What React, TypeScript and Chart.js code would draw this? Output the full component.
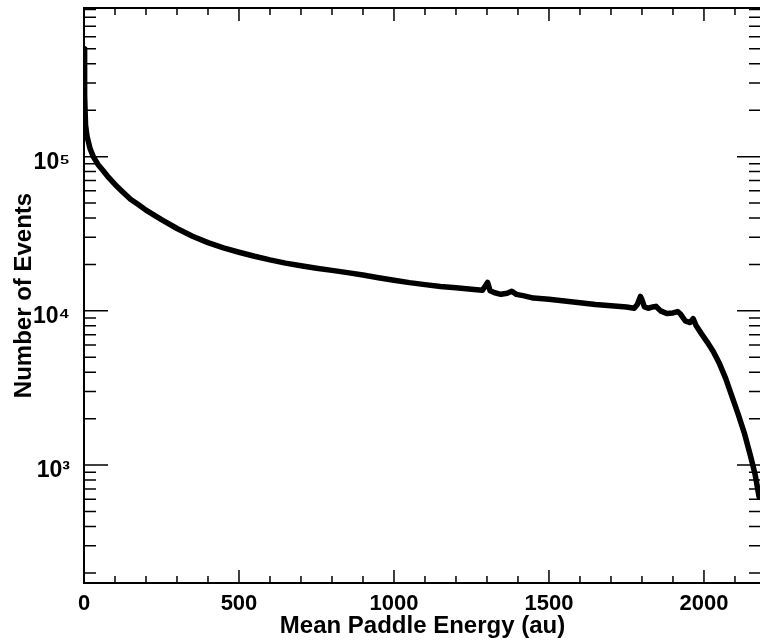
import React, { useEffect, useRef } from "react";
import { Chart, registerables } from "chart.js";

Chart.register(...registerables);

const energy: number[] = [
  0, 2, 5, 10, 20, 30, 45, 60, 80, 100, 125, 150, 175, 200, 250, 300, 350, 400, 450, 500,
  550, 600, 650, 700, 750, 800, 850, 900, 950, 1000, 1050, 1100, 1150, 1200, 1250, 1285,
  1295, 1302, 1310, 1325, 1345, 1365, 1380, 1395, 1420, 1450, 1500, 1550, 1600, 1650, 1700,
  1750, 1775, 1785, 1795, 1800, 1808, 1820, 1835, 1845, 1860, 1880, 1900, 1915, 1925, 1940,
  1955, 1965, 1975, 1990, 2010, 2030, 2050, 2070, 2090, 2110, 2130, 2150, 2165, 2178,
];

const events: number[] = [
  500000, 250000, 160000, 135000, 112000, 100000, 89000, 82000, 73000, 66000, 59000, 53000,
  49000, 45000, 39000, 34200, 30500, 27700, 25600, 24000, 22600, 21400, 20400, 19600, 18900,
  18300, 17700, 17100, 16400, 15800, 15250, 14800, 14400, 14100, 13800, 13600, 14500, 15300,
  13500, 13100, 12800, 13000, 13400, 12800, 12500, 12100, 11900, 11600, 11300, 11000, 10800,
  10600, 10400, 11000, 12400, 11800, 10600, 10400, 10600, 10700, 10000, 9600, 9700, 9900, 9500,
  8600, 8400, 8900, 8000, 7200, 6300, 5450, 4550, 3650, 2800, 2150, 1620, 1150, 870, 620,
];

const xTickValues: number[] = [
  0, 100, 200, 300, 400, 500, 600, 700, 800, 900, 1000, 1100, 1200, 1300, 1400, 1500, 1600,
  1700, 1800, 1900, 2000, 2100,
];
const xMajorStep = 500;

const yTickValues: number[] = [
  200, 300, 400, 500, 600, 700, 800, 900,
  1000, 2000, 3000, 4000, 5000, 6000, 7000, 8000, 9000,
  10000, 20000, 30000, 40000, 50000, 60000, 70000, 80000, 90000,
  100000, 200000, 300000, 400000, 500000, 600000, 700000, 800000, 900000,
];

const supDigits: Record<string, string> = {
  "0": "⁰", "1": "¹", "2": "²", "3": "³", "4": "⁴", "5": "⁵", "6": "⁶", "7": "⁷", "8": "⁸", "9": "⁹",
};

const FONT = "'Liberation Sans', Arial, Helvetica, sans-serif";

function isDecade(v: number) {
  const l = Math.log10(v);
  return Math.abs(l - Math.round(l)) < 1e-9;
}

function zeroPad(s: any) {
  s.paddingTop = 0;
  s.paddingBottom = 0;
  s.paddingLeft = 0;
  s.paddingRight = 0;
}

const frameTicks = {
  id: "frameTicks",
  afterDraw(chart: any) {
    const { ctx, chartArea: a } = chart;
    const xs = chart.scales.x;
    const ys = chart.scales.y;
    ctx.save();
    ctx.strokeStyle = "#000";
    ctx.lineWidth = 2;
    ctx.lineCap = "butt";
    ctx.beginPath();
    ctx.moveTo(a.left, a.top);
    ctx.lineTo(a.left, a.bottom);
    ctx.lineTo(a.right, a.bottom);
    ctx.lineTo(a.right, a.top);
    ctx.closePath();
    ctx.stroke();
    ctx.lineWidth = 1.5;
    ctx.beginPath();
    for (const t of xs.ticks) {
      const px = xs.getPixelForValue(t.value);
      const len = t.value % xMajorStep === 0 ? 13 : 7;
      ctx.moveTo(px, a.bottom);
      ctx.lineTo(px, a.bottom - len);
      ctx.moveTo(px, a.top);
      ctx.lineTo(px, a.top + len);
    }
    for (const t of ys.ticks) {
      const py = ys.getPixelForValue(t.value);
      const len = isDecade(t.value) ? 24 : 12;
      ctx.moveTo(a.left, py);
      ctx.lineTo(a.left + len, py);
      ctx.moveTo(a.right, py);
      ctx.lineTo(a.right - len, py);
    }
    ctx.stroke();
    ctx.restore();
  },
};

export default function App() {
  const ref = useRef<HTMLCanvasElement | null>(null);

  useEffect(() => {
    if (!ref.current) return;
    Chart.defaults.font.family = FONT;
    const chart = new Chart(ref.current, {
      type: "line",
      data: {
        labels: energy,
        datasets: [
          {
            data: energy.map((e, i) => ({ x: e, y: events[i] })),
            borderColor: "#000",
            borderWidth: 5.5,
            pointRadius: 0,
            tension: 0,
            fill: false,
            borderJoinStyle: "round",
            borderCapStyle: "round",
          },
        ],
      },
      options: {
        animation: false,
        responsive: false,
        layout: { padding: { top: 8, right: 9, left: 0, bottom: 0 } },
        plugins: { legend: { display: false }, tooltip: { enabled: false } },
        scales: {
          x: {
            type: "linear",
            min: 0,
            max: 2184,
            afterBuildTicks: (s: any) => {
              s.ticks = xTickValues.map((v) => ({ value: v }));
            },
            afterFit: (s: any) => {
              s.height = 58;
              zeroPad(s);
            },
            grid: { display: false, drawTicks: false },
            border: { display: false },
            ticks: {
              autoSkip: false,
              maxRotation: 0,
              minRotation: 0,
              padding: 8,
              color: "#000",
              font: { size: 22, weight: "bold", family: FONT },
              callback: (v: any) => (Number(v) % xMajorStep === 0 ? String(v) : ""),
            },
            title: {
              display: true,
              text: "Mean Paddle Energy (au)",
              color: "#000",
              font: { size: 24, weight: "bold", family: FONT },
              padding: { top: 0, bottom: 0 },
            },
          },
          y: {
            type: "logarithmic",
            min: 172,
            max: 920000,
            afterBuildTicks: (s: any) => {
              s.ticks = yTickValues.map((v) => ({ value: v, major: isDecade(v) }));
            },
            afterFit: (s: any) => {
              s.width = 84;
              zeroPad(s);
            },
            grid: { display: false, drawTicks: false },
            border: { display: false },
            ticks: {
              autoSkip: false,
              padding: 14,
              labelOffset: 6,
              color: "#000",
              font: { size: 23, weight: "bold", family: FONT },
              callback: (v: any) => {
                const n = Number(v);
                if (!isDecade(n)) return "";
                const exp = String(Math.round(Math.log10(n)));
                return "10" + exp.split("").map((d) => supDigits[d]).join("");
              },
            },
            title: {
              display: true,
              text: "Number of Events",
              color: "#000",
              font: { size: 24, weight: "bold", family: FONT },
              padding: { top: 10, bottom: 0 },
            },
          },
        },
      } as any,
      plugins: [frameTicks],
    });
    return () => chart.destroy();
  }, []);

  return (
    <div
      style={{
        position: "absolute",
        left: 0,
        top: 0,
        width: 760,
        height: 641,
        overflow: "hidden",
        background: "#fff",
      }}
    >
      <canvas ref={ref} width={770} height={641} style={{ display: "block" }} />
    </div>
  );
}
